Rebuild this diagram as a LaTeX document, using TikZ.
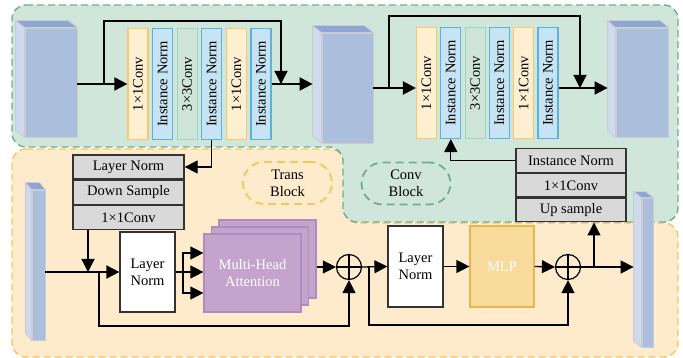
\documentclass[tikz,border=0pt]{standalone}
\usepackage{fontspec}
\setmainfont{Liberation Serif}
\usetikzlibrary{arrows.meta,positioning,calc}

\definecolor{greenbg}{HTML}{D0E6DA}
\definecolor{greenln}{HTML}{6BAF91}
\definecolor{orangebg}{HTML}{FDEBCC}
\definecolor{orangeln}{HTML}{F6C65E}
\definecolor{convfill}{HTML}{FDEFD2}
\definecolor{convln}{HTML}{F8C86A}
\definecolor{normfill}{HTML}{C6E4F3}
\definecolor{normln}{HTML}{5AB2E0}
\definecolor{cthreefill}{HTML}{CFE5D9}
\definecolor{cthreeln}{HTML}{A3D3BA}
\definecolor{fmfront}{HTML}{ABBFDD}
\definecolor{fmside}{HTML}{CFDAEE}
\definecolor{fmtop}{HTML}{8DA6D2}
\definecolor{fmedge}{HTML}{C9CDD3}
\definecolor{grayfill}{HTML}{D9D9D9}
\definecolor{mhafill}{HTML}{C4A3CD}
\definecolor{mhaln}{HTML}{B18AC0}
\definecolor{mlpfill}{HTML}{F8DA9C}
\definecolor{mlpln}{HTML}{E9B64C}

\tikzset{
  bar/.style={draw, line width=1.2pt, minimum width=20pt, minimum height=111pt, inner sep=0pt},
  convbar/.style={bar, fill=convfill, draw=convln},
  normbar/.style={bar, fill=normfill, draw=normln},
  cthreebar/.style={bar, fill=cthreefill, draw=cthreeln},
  fmap/.style={draw=fmedge, fill=fmfront, line width=0.8pt, inner sep=0pt},
  graybox/.style={draw=black!80, fill=grayfill, line width=1.3pt, minimum width=111pt, minimum height=24pt, inner sep=0pt},
  whitebox/.style={draw=black!80, fill=white, line width=1.2pt, align=center, inner sep=0pt},
  mhabox/.style={draw=mhaln, fill=mhafill, line width=1.2pt, minimum width=97pt, minimum height=78pt, inner sep=0pt},
  blocktag/.style={dashed, dash pattern=on 8pt off 5pt, line width=1.8pt, rounded corners=21pt, align=center, minimum width=89pt, minimum height=42pt},
  arr/.style={-{Triangle[length=13pt,width=13pt]}, line width=1.3pt},
  mainarr/.style={arr, line width=1.9pt},
  addop/.style={circle, draw, line width=1.2pt, minimum size=25pt, inner sep=0pt,
    path picture={\draw[line width=1.2pt] (path picture bounding box.north) -- (path picture bounding box.south)
      (path picture bounding box.west) -- (path picture bounding box.east);}},
}

% side and top faces of a feature map
\newcommand{\fmapdepth}[3]{%
  \filldraw[draw=fmedge, fill=fmside, line width=0.8pt] (#1.north west) -- ++(#2,#3) -- ($(#1.south west)+(#2,#3)$) -- (#1.south west) -- cycle;
  \filldraw[draw=fmedge, fill=fmtop, line width=0.8pt] (#1.north west) -- ++(#2,#3) -- ($(#1.north east)+(#2,#3)$) -- (#1.north east) -- cycle;
  \coordinate (#1-s) at ($(#1.west)+(#2,0)$);}

\begin{document}
\begin{tikzpicture}[x=1pt,y=-1pt,font=\fontsize{14.5}{17}\selectfont]
\useasboundingbox (0,0) rectangle (683,358);

% regions
\filldraw[fill=orangebg, draw=orangeln, line width=1.4pt, dash pattern=on 7pt off 4pt, rounded corners=14pt]
  (12,149) -- (344,149) -- (344,223) -- (678,223) -- (678,357) -- (12,357) -- cycle;
\filldraw[fill=greenbg, draw=greenln, line width=1.4pt, dash pattern=on 7pt off 4pt, rounded corners=14pt]
  (12,5) -- (678,5) -- (678,222) -- (343,222) -- (343,147) -- (12,147) -- cycle;

\node[blocktag, draw=orangeln] (trans) at (287.5,183) {Trans\\Block};
\node[blocktag, draw=greenln] (convtag) at (406,183.5) {Conv\\Block};

% feature maps
\node[fmap, minimum width=52pt, minimum height=109pt] (c1) at (51,82.5) {};
\fmapdepth{c1}{-9}{-7}
\node[fmap, minimum width=51pt, minimum height=110pt] (c2) at (347.5,88) {};
\fmapdepth{c2}{-9}{-7}
\node[fmap, minimum width=52pt, minimum height=109pt] (c3) at (642,82.5) {};
\fmapdepth{c3}{-8}{-7}
\node[fmap, minimum width=13pt, minimum height=150pt] (t1) at (38.5,265) {};
\fmapdepth{t1}{-6}{-7}
\node[fmap, minimum width=11pt, minimum height=149pt] (t2) at (647.5,272.5) {};
\fmapdepth{t2}{-8}{-6}

% left conv block
\node[convbar] (lb1) at (138,84) {\rotatebox{90}{1×1Conv}};
\node[normbar, right=3.4pt of lb1] (lb2) {\rotatebox{90}{Instance Norm}};
\node[cthreebar, right=3.4pt of lb2] (lb3) {\rotatebox{90}{3×3Conv}};
\node[normbar, right=3.4pt of lb3] (lb4) {\rotatebox{90}{Instance Norm}};
\node[convbar, right=3.4pt of lb4] (lb5) {\rotatebox{90}{1×1Conv}};
\node[normbar, right=3.4pt of lb5] (lb6) {\rotatebox{90}{Instance Norm}};

% right conv block
\node[convbar] (rb1) at (426.5,83) {\rotatebox{90}{1×1Conv}};
\node[normbar, right=3.1pt of rb1] (rb2) {\rotatebox{90}{Instance Norm}};
\node[cthreebar, right=3.1pt of rb2] (rb3) {\rotatebox{90}{3×3Conv}};
\node[normbar, right=3.1pt of rb3] (rb4) {\rotatebox{90}{Instance Norm}};
\node[convbar, right=3.1pt of rb4] (rb5) {\rotatebox{90}{1×1Conv}};
\node[normbar, right=3.1pt of rb5] (rb6) {\rotatebox{90}{Instance Norm}};

% gray stacks
\node[graybox] (lnA) at (128.5,167) {Layer Norm};
\node[graybox, below=0pt of lnA] (dsA) {Down Sample};
\node[graybox, below=0pt of dsA] (cvA) {1×1Conv};
\node[graybox, minimum width=110pt, minimum height=23.5pt] (inB) at (571,160.5) {Instance Norm};
\node[graybox, minimum width=110pt, minimum height=23.5pt, below=0pt of inB] (cvB) {1×1Conv};
\node[graybox, minimum width=110pt, minimum height=23.5pt, below=0pt of cvB] (upB) {Up sample};

% trans block
\node[whitebox, minimum width=55pt, minimum height=80pt] (ln1) at (147.5,272) {Layer\\Norm};
\node[mhabox] (mha3) at (267.5,259) {};
\node[mhabox] (mha2) at (260,266) {};
\node[mhabox, text=white, align=center] (mha1) at (252.5,273) {Multi-Head\\Attention};
\node[addop] (add1) at (349,267) {};
\node[whitebox, minimum width=55pt, minimum height=81pt] (ln2) at (415.5,266.5) {Layer\\Norm};
\node[draw=mlpln, fill=mlpfill, line width=1.2pt, minimum width=64pt, minimum height=81pt, text=white] (mlp) at (502,266.5) {MLP};
\node[addop] (add2) at (568,267) {};

\coordinate (k1) at (104,84);
\coordinate (k2) at (281,84);
\coordinate (k3) at (389,88);
\coordinate (k4) at (580,88);
\coordinate (j1) at (88,272);
\coordinate (s1) at (99,272);
\coordinate (b1) at (183,272);
\coordinate (s2) at (369,267);
\coordinate (s3) at (594,267);

% top row connectors
\draw[mainarr] (c1.east |- lb1.west) -- (lb1.west);
\draw[arr] (k1) -- ++(0,-63) -| (k2);
\draw[mainarr] (lb6.east) -- (c2-s |- lb6.east);
\draw[mainarr, line width=2.4pt] (c2.east) -- (c2.east -| rb1.west);
\draw[arr] (k3) -- ++(0,-72) -| (k4);
\draw[mainarr] (rb6.east |- c2.east) -- (c3-s |- c2.east);
\draw[arr] (lb4.south) |- (lnA.east);
\draw[arr] (inB.west) -| (rb2.south);

% bottom row connectors
\draw[mainarr] (t1.east |- ln1.west) -- (ln1.west);
\draw[arr] (cvA.south -| j1) -- (j1);
\draw[arr] (s1) -- ++(0,54) -| (add1.south);
\draw[arr] (ln1.east) -- (b1) -- (mha1.west |- b1);
\draw[arr] (b1) |- ([yshift=20pt]mha1.west);
\draw[arr] (b1) |- ([yshift=-20pt]mha1.west);
\draw[arr] (mha3.east |- add1.west) -- (add1.west);
\draw[arr] (add1.east) -- (ln2.west);
\draw[arr] (s2) -- ++(0,58) -| (add2.south);
\draw[arr] (ln2.east) -- (mlp.west);
\draw[arr] (mlp.east) -- (add2.west);
\draw[arr] (add2.east) -- (t2-s |- add2.east);
\draw[arr] (s3) -- (s3 |- upB.south);
\end{tikzpicture}
\end{document}
